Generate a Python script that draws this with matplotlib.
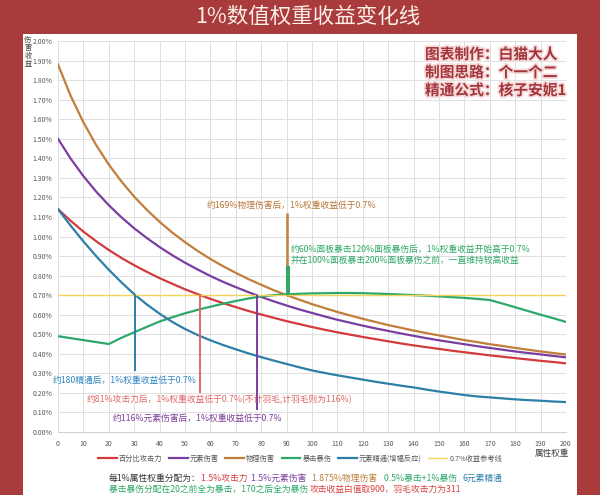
import matplotlib
matplotlib.use('Agg')
import matplotlib.pyplot as plt
from matplotlib import patheffects as pe
from matplotlib.patches import Rectangle
from matplotlib.ticker import FuncFormatter

CJK = ['Noto Sans CJK SC', 'DejaVu Sans']
plt.rcParams['font.family'] = CJK

# ---------------- data ----------------
weights = list(range(0, 201, 5))
atk_pct = [1.140, 1.080, 1.025, 0.976, 0.931, 0.890, 0.853, 0.819, 0.787, 0.758, 0.730,
           0.705, 0.681, 0.659, 0.639, 0.619, 0.601, 0.584, 0.567, 0.552, 0.537,
           0.523, 0.510, 0.498, 0.486, 0.475, 0.464, 0.453, 0.443, 0.434, 0.425,
           0.416, 0.408, 0.400, 0.392, 0.385, 0.378, 0.371, 0.364, 0.358, 0.351]
elem_dmg = [1.500, 1.398, 1.309, 1.230, 1.160, 1.098, 1.042, 0.992, 0.946, 0.904, 0.866,
            0.831, 0.798, 0.768, 0.741, 0.715, 0.691, 0.668, 0.647, 0.627, 0.609,
            0.591, 0.574, 0.559, 0.544, 0.530, 0.517, 0.504, 0.492, 0.480, 0.469,
            0.459, 0.449, 0.439, 0.430, 0.421, 0.412, 0.404, 0.397, 0.389, 0.382]
phys_dmg = [1.880, 1.719, 1.584, 1.468, 1.368, 1.281, 1.204, 1.136, 1.075, 1.020, 0.971,
            0.926, 0.885, 0.848, 0.814, 0.782, 0.753, 0.725, 0.700, 0.677, 0.654,
            0.634, 0.614, 0.596, 0.579, 0.563, 0.547, 0.533, 0.519, 0.506, 0.494,
            0.482, 0.470, 0.460, 0.449, 0.440, 0.430, 0.421, 0.412, 0.404, 0.396]
crit = [0.490, 0.480, 0.470, 0.460, 0.450, 0.482, 0.510, 0.538, 0.565, 0.587, 0.607,
        0.625, 0.641, 0.656, 0.670, 0.683, 0.694, 0.700, 0.704, 0.707, 0.709,
        0.710, 0.711, 0.711, 0.710, 0.708, 0.706, 0.703, 0.700, 0.697, 0.694,
        0.690, 0.686, 0.681, 0.675, 0.657, 0.638, 0.619, 0.600, 0.582, 0.563]
em = [1.140, 1.055, 0.975, 0.900, 0.830, 0.765, 0.705, 0.652, 0.605, 0.563, 0.527,
      0.496, 0.469, 0.445, 0.423, 0.402, 0.383, 0.365, 0.348, 0.331, 0.315,
      0.302, 0.290, 0.279, 0.268, 0.257, 0.247, 0.237, 0.228, 0.217, 0.207,
      0.198, 0.189, 0.182, 0.177, 0.172, 0.167, 0.163, 0.160, 0.156, 0.153]
ref_line = [0.70] * len(weights)

series_names = ['百分比攻击力', '元素伤害', '物理伤害', '暴击暴伤', '元素精通(增幅反应)', '0.7%收益参考线']

# marker (threshold) lines: x position, from y, to y
mark_x = [30.4, 56.0, 78.4, 90.0, 90.6]
mark_y0 = [0.70, 0.70, 0.70, 0.70, 0.70]
mark_y1 = [0.31, 0.20, 0.11, 1.12, 0.85]

yticks = [i / 10 for i in range(0, 21)]
xticks = list(range(0, 201, 10))

# ---------------- style ----------------
C_RED = '#D23A3C'
C_PUR = '#7A3EA0'
C_BRN = '#C07E3A'
C_GRN = '#2EA86A'
C_BLU = '#2D7FA8'
C_YEL = '#F2D35C'
BG = '#A93B3D'

fig = plt.figure(figsize=(6, 4.95), dpi=100)
fig.patch.set_facecolor(BG)
W, H = 600.0, 495.0
fig.add_artist(Rectangle((23 / W, 0), (577 - 23) / W, (495 - 34) / H,
                         transform=fig.transFigure, facecolor='white',
                         edgecolor='none', zorder=0))

ax = fig.add_axes([58 / W, 63 / H, 508 / W, 391 / H])
ax.set_facecolor('white')
ax.set_xlim(0, 200)
ax.set_ylim(0, 2.0)
ax.set_xticks(xticks)
ax.set_yticks(yticks)
ax.yaxis.set_major_formatter(FuncFormatter(lambda v, p: f'{v:.2f}%'))
ax.tick_params(axis='both', length=0, labelsize=5, labelcolor='#595959')
ax.tick_params(axis='x', pad=6)
ax.tick_params(axis='y', pad=4)
ax.grid(True, color='#E0E0E0', lw=0.7)
ax.set_axisbelow(True)
for s in ['top', 'right', 'left']:
    ax.spines[s].set_visible(False)
ax.spines['bottom'].set_color('#D0D0D0')

lw = 1.6
h1, = ax.plot(weights, atk_pct, color=C_RED, lw=lw)
h2, = ax.plot(weights, elem_dmg, color=C_PUR, lw=lw)
h3, = ax.plot(weights, phys_dmg, color=C_BRN, lw=lw)
h4, = ax.plot(weights, crit, color=C_GRN, lw=lw)
h5, = ax.plot(weights, em, color=C_BLU, lw=lw)
h6, = ax.plot(weights, ref_line, color=C_YEL, lw=1.0)

mark_cols = [C_BLU, '#E0686A', C_PUR, C_BRN, C_GRN]
mark_lws = [1.4, 1.4, 1.4, 1.8, 2.8]
for x, y0, y1, c, w in zip(mark_x, mark_y0, mark_y1, mark_cols, mark_lws):
    ax.plot([x, x], [y0, y1], color=c, lw=w, solid_capstyle='butt')

# annotations
fs_a = 6.3
ax.text(92, 1.16, '约169%物理伤害后，1%权重收益低于0.7%', color='#B9773A', fontsize=fs_a,
        ha='center', va='center')
ax.text(91.5, 0.936, '约60%面板暴击120%面板暴伤后，1%权重收益开始高于0.7%', color='#2DA866',
        fontsize=fs_a, ha='left', va='center')
ax.text(91.5, 0.875, '并在100%面板暴击200%面板暴伤之前，一直维持较高收益', color='#2DA866',
        fontsize=fs_a, ha='left', va='center')
ax.text(-2, 0.266, '约180精通后，1%权重收益低于0.7%', color='#2E86C1', fontsize=fs_a,
        ha='left', va='center', clip_on=False)
ax.text(11.4, 0.164, '约81%攻击力后，1%权重收益低于0.7%(不计羽毛,计羽毛则为116%)', color='#E06666',
        fontsize=fs_a, ha='left', va='center')
ax.text(21.7, 0.07, '约116%元素伤害后，1%权重收益低于0.7%', color='#7D3C98', fontsize=fs_a,
        ha='left', va='center')

# credits box
stroke = [pe.withStroke(linewidth=2.5, foreground='#F6DADA')]
for i, t in enumerate(['图表制作：白猫大人', '制图思路：个一个二', '精通公式：核子安妮1']):
    fig.text(425 / W, 1 - (54 + 18 * i) / H, t, color='#A3343A', fontsize=10.6,
             fontweight='bold', ha='left', va='center', path_effects=stroke)

# title
fig.text(308 / W, 1 - 17 / H, '1%数值权重收益变化线', color='#FBEFE6', fontsize=15.5,
         ha='center', va='center')

# y axis title (stacked)
fig.text(28 / W, 1 - 52 / H, '伤\n害\n收\n益', color='#404040', fontsize=5.2,
         ha='center', va='center', linespacing=0.95)
# x axis title
fig.text(552 / W, 1 - 453 / H, '属性权重', color='#404040', fontsize=6.2,
         ha='center', va='center')

# legend
leg = fig.legend([h1, h2, h3, h4, h5, h6], series_names, loc='center',
                 bbox_to_anchor=(300 / W, 1 - 459 / H), ncol=6, frameon=False,
                 fontsize=5.2, handlelength=2.6, columnspacing=0.9, handletextpad=0.3,
                 labelcolor='#595959')

# bottom multi-coloured notes
renderer = fig.canvas.get_renderer()


def rainbow(x, y, parts, size):
    for txt, col in parts:
        t = fig.text(x, y, txt, color=col, fontsize=size, ha='left', va='center')
        bb = t.get_window_extent(renderer=renderer)
        x += bb.width / fig.bbox.width


rainbow(109 / W, 1 - 478 / H, [('每1%属性权重分配为：', '#333333'),
                                ('1.5%攻击力  ', C_RED),
                                ('1.5%元素伤害   ', C_PUR),
                                ('1.875%物理伤害   ', C_BRN),
                                ('0.5%暴击+1%暴伤   ', C_GRN),
                                ('6元素精通', C_BLU)], 6.3)
rainbow(109 / W, 1 - 489 / H, [('暴击暴伤分配在20之前全为暴击，170之后全为暴伤 ', C_GRN),
                                ('攻击收益白值取900，羽毛攻击力为311', '#D9403F')], 6.3)

fig.savefig('out.png', dpi=100, facecolor=fig.get_facecolor())
